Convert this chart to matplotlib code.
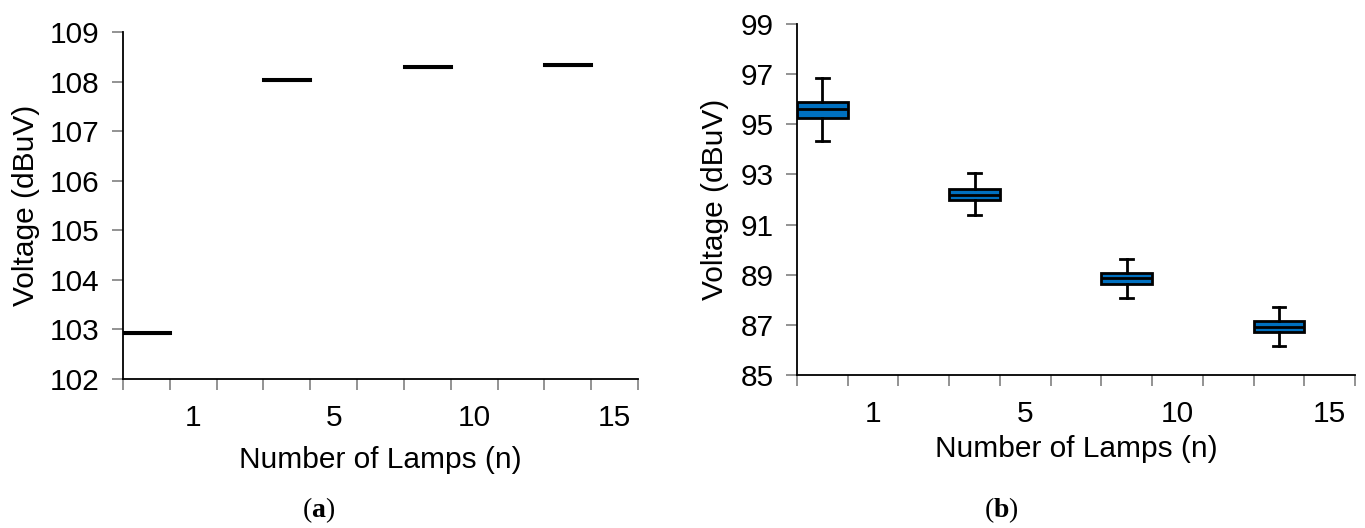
import matplotlib
matplotlib.use("Agg")
import matplotlib.pyplot as plt
from matplotlib.ticker import FixedLocator, NullFormatter, FixedFormatter

plt.rcParams['font.family'] = ['Liberation Sans', 'DejaVu Sans']
plt.rcParams['mathtext.fontset'] = 'custom'
plt.rcParams['mathtext.rm'] = 'Liberation Serif'
plt.rcParams['mathtext.bf'] = 'Liberation Serif:bold'

# ---- data ----
lamp_labels = ["1", "5", "10", "15"]

# (a) voltage (dBuV) - nearly constant
a_whislo = [102.92, 108.03, 108.29, 108.33]
a_q1     = [102.92, 108.03, 108.29, 108.33]
a_med    = [102.93, 108.04, 108.30, 108.34]
a_q3     = [102.94, 108.05, 108.31, 108.35]
a_whishi = [102.94, 108.05, 108.31, 108.35]

# (b) voltage (dBuV)
b_whislo = [94.34, 91.38, 88.06, 86.14]
b_q1     = [95.27, 91.98, 88.63, 86.72]
b_med    = [95.60, 92.19, 88.86, 86.93]
b_q3     = [95.90, 92.43, 89.06, 87.16]
b_whishi = [96.85, 93.04, 89.62, 87.73]

box_positions = [0.5, 3.5, 6.5, 9.5]
label_positions = [1.5, 4.5, 7.5, 10.5]

FS = 21.5

fig = plt.figure(figsize=(13.65, 5.28), dpi=100)
ax1 = fig.add_axes([123/1365, (528-379)/528, (638-123)/1365, (379-32)/528])
ax2 = fig.add_axes([797/1365, (528-375)/528, (1355-797)/1365, (375-24)/528])


def stats(lo, q1, med, q3, hi):
    return [dict(whislo=a, q1=b, med=c, q3=d, whishi=e, fliers=[])
            for a, b, c, d, e in zip(lo, q1, med, q3, hi)]


def style_axes(ax, ylim, yticks, xpad, xlabelpad, ylabelpad):
    ax.set_xlim(0, 11)
    ax.set_ylim(*ylim)
    ax.set_yticks(yticks)
    ax.set_yticklabels([str(t) for t in yticks])
    ax.xaxis.set_major_locator(FixedLocator(list(range(0, 12))))
    ax.xaxis.set_major_formatter(NullFormatter())
    ax.xaxis.set_minor_locator(FixedLocator(label_positions))
    ax.xaxis.set_minor_formatter(FixedFormatter(lamp_labels))
    ax.tick_params(axis='x', which='major', length=8, width=1.2, color='#808080', direction='out')
    ax.tick_params(axis='x', which='minor', length=0, labelsize=FS, pad=xpad)
    ax.tick_params(axis='y', which='major', length=8, width=1.2, color='#808080',
                   direction='out', labelsize=FS, pad=9)
    for s in ['top', 'right']:
        ax.spines[s].set_visible(False)
    for s in ['left', 'bottom']:
        ax.spines[s].set_linewidth(1.3)
        ax.spines[s].set_color('black')
    ax.set_xlabel("Number of Lamps (n)", fontsize=FS, labelpad=xlabelpad)
    ax.set_ylabel("Voltage (dBuV)", fontsize=FS, labelpad=ylabelpad)


# (a)
ax1.bxp(stats(a_whislo, a_q1, a_med, a_q3, a_whishi), positions=box_positions,
        widths=1.0, patch_artist=True, showcaps=False,
        boxprops=dict(facecolor='black', edgecolor='black', linewidth=2.2),
        medianprops=dict(color='black', linewidth=2.2),
        whiskerprops=dict(color='black', linewidth=1.5))
style_axes(ax1, (102, 109), list(range(102, 110)), xpad=18, xlabelpad=10, ylabelpad=7)

# (b)
ax2.bxp(stats(b_whislo, b_q1, b_med, b_q3, b_whishi), positions=box_positions,
        widths=1.0, patch_artist=True, showcaps=True,
        boxprops=dict(facecolor='#0070C0', edgecolor='black', linewidth=2.0),
        medianprops=dict(color='black', linewidth=2.0),
        whiskerprops=dict(color='black', linewidth=2.0),
        capprops=dict(color='black', linewidth=2.0), capwidths=0.25,
        zorder=3)
style_axes(ax2, (85, 99), list(range(85, 100, 2)), xpad=18, xlabelpad=5, ylabelpad=8)

fig.text(319/1365, 1 - 510/528, r"($\mathbf{a}$)", ha='center', va='center', fontsize=20,
         family=['Liberation Serif', 'DejaVu Serif'])
fig.text(1001/1365, 1 - 510/528, r"($\mathbf{b}$)", ha='center', va='center', fontsize=20,
         family=['Liberation Serif', 'DejaVu Serif'])

fig.savefig("out.png", dpi=100, facecolor='white')
